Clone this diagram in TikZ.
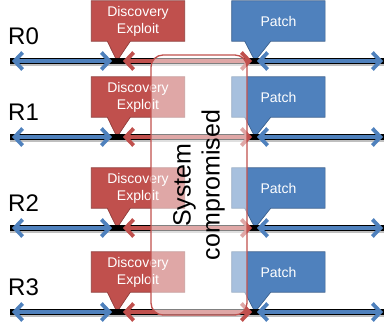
\documentclass[tikz,border=0pt]{standalone}
\usepackage{fontspec}
\setmainfont{Liberation Sans}
\usetikzlibrary{arrows.meta,positioning,calc,backgrounds}
\definecolor{dred}{HTML}{C0504D}
\definecolor{dblue}{HTML}{4F81BD}
\tikzset{
  barb/.tip   ={Straight Barb[length=8pt,width=17pt]},
  rlbl/.style ={anchor=west, inner sep=0pt, font=\fontsize{24}{24}\selectfont},
  cbox/.style ={minimum width=93pt, minimum height=40pt, inner sep=0pt, align=center, text=white, font=\fontsize{14}{17}\selectfont},
  dfill/.style={fill=dred, draw=dred!75!black, line width=0.7pt},
  pfill/.style={fill=dblue, draw=dblue!75!black, line width=0.7pt},
  tline/.style={line width=5.5pt, black},
  tshade/.style={line width=5pt, black!25},
  barr/.style ={barb-barb, line width=3.8pt, dblue},
  rarr/.style ={barb-barb, line width=3.8pt, dred},
  syscomp/.style={draw=dred, line width=1.3pt, rounded corners=12pt, fill=white, fill opacity=0.5, text opacity=1,
    rotate=90, minimum width=260pt, minimum height=96pt, align=center, font=\fontsize{25}{29}\selectfont},
}

\begin{document}
\begin{tikzpicture}[x=1pt, y=-1pt]
  \useasboundingbox (0,0) rectangle (385,324);

  % one timeline per release
  \foreach \r/\y in {0/61,1/137,2/228,3/312}{
    \node[rlbl] (r\r) at (8,\y-25) {R\r};
    \node[cbox] (d\r) at (138,\y-40) {Discovery\\Exploit};
    \node[cbox, right=47pt of d\r] (p\r) {Patch};
    \coordinate (a\r) at (10,\y);
    \coordinate (b\r) at (384,\y);
    \coordinate (e\r) at (117,\y);
    \coordinate (f\r) at (255,\y);

    \begin{scope}[on background layer]
      \draw[dfill] (d\r.north west) -- (d\r.north east) -- (d\r.south east) -- ([xshift=39pt]d\r.south west)
        -- (e\r) -- ([xshift=16pt]d\r.south west) -- (d\r.south west) -- cycle;
      \draw[pfill] (p\r.north west) -- (p\r.north east) -- (p\r.south east) -- ([xshift=39pt]p\r.south west)
        -- (f\r) -- ([xshift=13pt]p\r.south west) -- (p\r.south west) -- cycle;
    \end{scope}

    \draw[tshade] ([yshift=-2pt]a\r) -- ([yshift=-2pt]b\r);
    \draw[tline] (a\r) -- (b\r);
    \draw[barr] ([xshift=2pt]a\r) -- ([xshift=-5pt]e\r);
    \draw[rarr] ([xshift=6pt]e\r) -- ([xshift=-3pt]f\r);
    \draw[barr] ([xshift=2pt]f\r) -- ([xshift=-1pt]b\r);
  }

  \node[syscomp] (sys) at (199,185) {System\\compromised};
\end{tikzpicture}
\end{document}
